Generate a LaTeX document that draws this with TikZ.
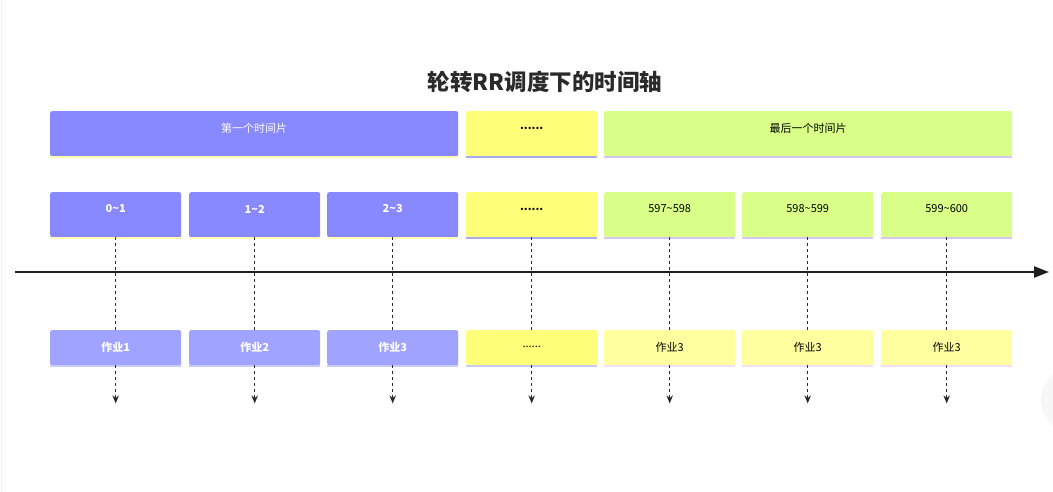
\documentclass[tikz,border=0pt]{standalone}
\usepackage{fontspec}
\setmainfont{Noto Sans CJK SC}
\usetikzlibrary{arrows.meta,calc}
\definecolor{bluefill}{HTML}{8888FF}
\definecolor{bluelite}{HTML}{A0A3FF}
\definecolor{yelfill}{HTML}{FFFF7A}
\definecolor{yellite}{HTML}{FFFFA0}
\definecolor{grnfill}{HTML}{D9FF88}
\definecolor{lineylw}{HTML}{FFFAB0}
\definecolor{lineblu}{HTML}{A8ADF0}
\definecolor{linepur}{HTML}{D6C6F2}
\definecolor{linepink}{HTML}{F6DDF6}
\definecolor{linebl2}{HTML}{C8CCF5}
\definecolor{ink}{HTML}{2A2A2A}
\tikzset{
  slot/.style={draw=none,rounded corners=2pt,inner sep=0pt,minimum height=#1},
  lbl/.style={inner sep=0pt,font=\fontsize{11}{13}\selectfont},
  wlbl/.style={lbl,text=white},
  blbl/.style={lbl,text=black},
  drop/.style={draw=ink,line width=1.5pt,dash pattern=on 3pt off 3pt},
  droparrow/.style={drop,-{Stealth[length=8pt,width=6.5pt]}},
}
\newcommand\slotbox[9]{%
  % #1 name, #2 x-left, #3 x-right, #4 y-top, #5 y-bottom, #6 fill, #7 line colour, #8 label style, #9 text
  \node[slot=#5-#4,minimum width=#3-#2,fill=#6,anchor=north west] (#1) at (#2,#4) {};
  \draw[#7,line width=2pt] ($(#1.south west)+(0,1)$) -- ($(#1.south east)+(0,1)$);
  \node[#8] (#1t) at ($(#1.north)+(0,17)$) {#9};
}
\begin{document}
\begin{tikzpicture}[x=1pt,y=-1pt]
\useasboundingbox (0,0) rectangle (1053,492);
\fill[white] (0,0) rectangle (1053,492);
\draw[gray!12,line width=0.8pt] (1.5,0) -- (1.5,492);
\fill[gray!6] (1075,400) circle (34);
\node[font=\fontsize{22.5}{26}\selectfont\bfseries,text=ink] (title) at (545,82) {轮转RR调度下的时间轴};
% row 1
\slotbox{ra}{50}{458}{111}{156}{bluefill}{lineylw}{wlbl}{第一个时间片}
\slotbox{rb}{466}{597}{111}{156}{yelfill}{lineblu}{blbl}{\textbf{......}}
\slotbox{rc}{604}{1012}{111}{156}{grnfill}{linepur}{blbl}{最后一个时间片}
% row 2
\slotbox{s1}{50}{181}{192}{237}{bluefill}{lineylw}{wlbl}{\bfseries 0\textasciitilde1}
\slotbox{s2}{189}{320}{192}{237}{bluefill}{lineylw}{wlbl}{\bfseries 1\textasciitilde2}
\slotbox{s3}{327}{458}{192}{237}{bluefill}{lineylw}{wlbl}{\bfseries 2\textasciitilde3}
\slotbox{s4}{466}{597}{192}{237}{yelfill}{lineblu}{blbl}{\textbf{......}}
\slotbox{s5}{604}{735}{192}{237}{grnfill}{linepur}{blbl}{597\textasciitilde598}
\slotbox{s6}{742}{873}{192}{237}{grnfill}{linepur}{blbl}{598\textasciitilde599}
\slotbox{s7}{881}{1012}{192}{237}{grnfill}{linepur}{blbl}{599\textasciitilde600}
% row 3
\slotbox{j1}{50}{181}{330}{365}{bluelite}{linebl2}{wlbl}{\bfseries 作业1}
\slotbox{j2}{189}{320}{330}{365}{bluelite}{linebl2}{wlbl}{\bfseries 作业2}
\slotbox{j3}{327}{458}{330}{365}{bluelite}{linebl2}{wlbl}{\bfseries 作业3}
\slotbox{j4}{466}{597}{330}{365}{yelfill}{linebl2}{blbl}{......}
\slotbox{j5}{604}{735}{330}{365}{yellite}{linepink}{blbl}{作业3}
\slotbox{j6}{742}{873}{330}{365}{yellite}{linepink}{blbl}{作业3}
\slotbox{j7}{881}{1012}{330}{365}{yellite}{linepink}{blbl}{作业3}
% dashed connectors
\foreach \i in {1,...,7}{
  \draw[drop] (s\i.south) -- (j\i.north);
  \coordinate (e\i) at ($(j\i.south)+(0,38)$);
  \draw[droparrow] (j\i.south) -- (e\i);
}
% time axis
\coordinate (axs) at (15,272);
\coordinate (axe) at (1049,272);
\draw[draw=black!88,line width=2.4pt,-{Triangle[length=15pt,width=11pt]}] (axs) -- (axe);
\end{tikzpicture}
\end{document}
